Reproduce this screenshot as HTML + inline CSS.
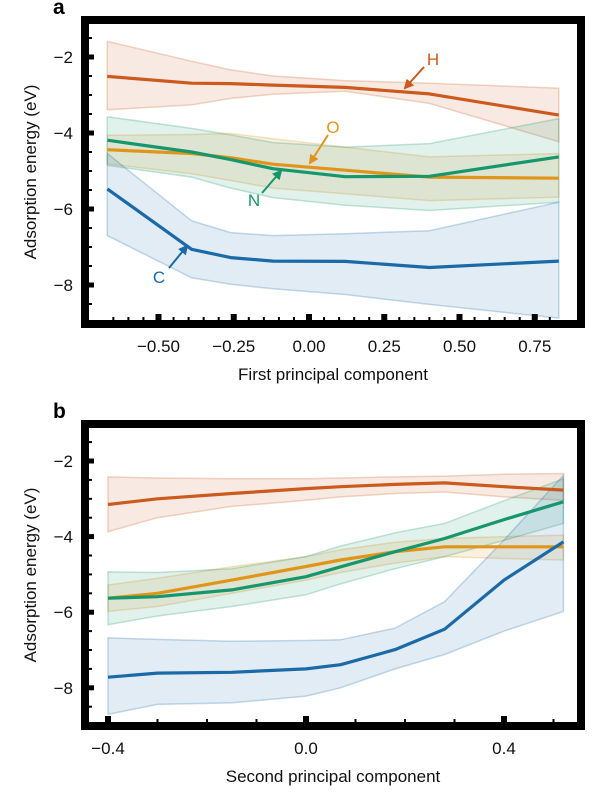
<!DOCTYPE html>
<html><head><meta charset="utf-8">
<style>
html,body{margin:0;padding:0;background:#fff;}
svg{display:block;font-family:"Liberation Sans",Arial,sans-serif;}
</style></head>
<body>
<svg id="chart" width="600" height="806" viewBox="0 0 600 806" xmlns="http://www.w3.org/2000/svg"></svg>
<script>
// Panel a data
const aX = [-0.67,-0.39,-0.26,-0.12,0.12,0.4,0.83];
const aHMean = [-2.51,-2.69,-2.7,-2.74,-2.8,-2.97,-3.53];
const aHHi = [-1.59,-2.11,-2.34,-2.5,-2.62,-2.69,-2.82];
const aHLo = [-3.39,-3.26,-3.09,-2.98,-2.9,-3.22,-4.23];
const aOMean = [-4.44,-4.54,-4.65,-4.82,-4.98,-5.16,-5.19];
const aOHi = [-4.06,-4.04,-4.01,-4.15,-4.37,-4.63,-4.54];
const aOLo = [-4.81,-5.07,-5.25,-5.45,-5.6,-5.78,-5.69];
const aNMean = [-4.19,-4.5,-4.7,-4.94,-5.15,-5.14,-4.63];
const aNHi = [-3.57,-3.88,-4.05,-4.25,-4.37,-4.28,-3.62];
const aNLo = [-4.85,-5.16,-5.45,-5.7,-5.9,-6.04,-5.82];
const aCMean = [-5.47,-7.06,-7.28,-7.37,-7.38,-7.54,-7.37];
const aCHi = [-4.54,-6.31,-6.62,-6.7,-6.65,-6.57,-5.82];
const aCLo = [-6.7,-7.81,-7.98,-8.1,-8.25,-8.51,-8.87];
const aXTicks = [-0.5,-0.25,0,0.25,0.5,0.75];
const aXTickLabels = ["\u22120.50","\u22120.25","0.00","0.25","0.50","0.75"];
// Panel b data
const bX = [-0.4,-0.3,-0.15,0.0,0.07,0.18,0.28,0.4,0.52];
const bHMean = [-3.15,-3.0,-2.86,-2.73,-2.68,-2.62,-2.58,-2.68,-2.77];
const bHHi = [-2.42,-2.45,-2.47,-2.47,-2.45,-2.42,-2.4,-2.35,-2.33];
const bHLo = [-3.87,-3.5,-3.2,-3.04,-2.95,-2.86,-2.82,-2.95,-3.04];
const bOMean = [-5.63,-5.5,-5.15,-4.79,-4.62,-4.4,-4.27,-4.27,-4.27];
const bOHi = [-5.28,-5.1,-4.8,-4.53,-4.35,-4.15,-4.05,-4.0,-3.96];
const bOLo = [-5.98,-5.85,-5.5,-5.15,-4.95,-4.7,-4.53,-4.58,-4.62];
const bNMean = [-5.63,-5.59,-5.41,-5.06,-4.8,-4.4,-4.05,-3.55,-3.08];
const bNHi = [-4.93,-4.95,-4.85,-4.53,-4.25,-3.9,-3.65,-3.05,-2.47];
const bNLo = [-6.33,-6.1,-5.85,-5.54,-5.25,-4.85,-4.53,-4.1,-3.65];
const bCMean = [-7.72,-7.61,-7.59,-7.5,-7.39,-6.99,-6.45,-5.15,-4.14];
const bCHi = [-6.68,-6.72,-6.77,-6.75,-6.73,-6.42,-5.72,-4.09,-2.38];
const bCLo = [-8.7,-8.44,-8.4,-8.22,-8.0,-7.5,-7.12,-6.5,-5.98];
const bXTicks = [-0.4,0,0.4];
const bXTickLabels = ["\u22120.4","0.0","0.4"];
const yTicks = [-2,-4,-6,-8];
const yTickLabels = ["\u22122","\u22124","\u22126","\u22128"];

const COL = {H:"#cc5a1c",O:"#e0951a",N:"#16966c",C:"#1a6aa8"};
const NS = "http://www.w3.org/2000/svg";
const svg = document.getElementById('chart');
function mk(tag, attrs, parent){const e=document.createElementNS(NS,tag);for(const k in attrs)e.setAttribute(k,attrs[k]);(parent||svg).appendChild(e);return e;}

function panel(cfg){
  const g = mk('g',{});
  
  
  const sx = v => cfg.x0 + v*cfg.xs;
  const sy = v => cfg.y2 + (-2 - v)*cfg.ys;
  const fr = mk('rect',{x:cfg.L,y:cfg.T,width:cfg.R-cfg.L,height:cfg.B-cfg.T,fill:'#000'},g);
  
  
  mk('rect',{x:cfg.L+8,y:cfg.T+8,width:cfg.R-cfg.L-16,height:cfg.B-cfg.T-16,fill:'#fff'},g);
  const clip = mk('clipPath',{id:cfg.name+'-clip'},g);
  mk('rect',{x:cfg.L+8,y:cfg.T+8,width:cfg.R-cfg.L-16,height:cfg.B-cfg.T-16},clip);
  const pg = mk('g',{'clip-path':'url(#'+cfg.name+'-clip)'},g);
  cfg.series.forEach(s=>{
    let d='';
    cfg.xv.forEach((x,i)=>{d+=(i?'L':'M')+sx(x).toFixed(1)+','+sy(s.hi[i]).toFixed(1);});
    for(let i=cfg.xv.length-1;i>=0;i--) d+='L'+sx(cfg.xv[i]).toFixed(1)+','+sy(s.lo[i]).toFixed(1);
    d+='Z';
    const band = mk('path',{d:d,fill:s.c,'fill-opacity':0.13,stroke:s.c,'stroke-opacity':0.25,'stroke-width':1.5},pg);
    
    
  });
  cfg.series.forEach(s=>{
    const pts = cfg.xv.map((x,i)=>sx(x).toFixed(1)+','+sy(s.m[i]).toFixed(1)).join(' ');
    const ln = mk('polyline',{points:pts,fill:'none',stroke:s.c,'stroke-width':3.2,'stroke-linejoin':'round'},pg);
    
    
  });
  for(let v=-1.5; v>=-8.5; v-=0.5){
    const y=sy(v); if(y<cfg.T+8||y>cfg.B-8) continue;
    const major = Number.isInteger(v) && v%2===0;
    mk('rect',{x:cfg.L+8,y:y-(major?2.5:1),width:major?5:3,height:major?5:2,fill:'#000'},g);
  }
  yTicks.forEach((v,i)=>{
    const t = mk('text',{x:cfg.L-8,y:sy(v)+6,'text-anchor':'end','font-size':17,fill:'#111'},g);
    t.textContent = yTickLabels[i];
    
    
  });
  for(let v=cfg.minStart; v<=cfg.minEnd+1e-9; v+=cfg.minStep){
    const x=sx(v);
    const major = cfg.xt.some(t=>Math.abs(t-v)<1e-6);
    mk('rect',{x:x-(major?3:1),y:cfg.B-8-(major?6:3),width:major?6:2,height:major?6:3,fill:'#000'},g);
  }
  cfg.xt.forEach((v,i)=>{
    const t = mk('text',{x:sx(v),y:cfg.B+24,'text-anchor':'middle','font-size':17,fill:'#111'},g);
    t.textContent = cfg.xl[i];
    
    
  });
  const xt = mk('text',{x:(cfg.L+cfg.R)/2,y:cfg.B+52,'text-anchor':'middle','font-size':17,fill:'#111'},g);
  xt.textContent = cfg.xtitle;
  
  
  const yc=(cfg.T+cfg.B)/2;
  const yt = mk('text',{x:36,y:yc,'text-anchor':'middle','font-size':17,fill:'#111',transform:'rotate(-90 36 '+yc+')'},g);
  yt.textContent = 'Adsorption energy (eV)';
  
  
  const pl = mk('text',{x:cfg.L-28,y:cfg.T-2,'font-size':21,'font-weight':'bold',fill:'#000'},g);
  pl.textContent = cfg.label;
  
  
  return {sx,sy,g};
}

panel({name:'panel-a',label:'a',L:81,T:16,R:585,B:328,x0:309,xs:301,y2:57,ys:38,
  xv:aX,xt:aXTicks,xl:aXTickLabels,minStart:-0.65,minEnd:0.80,minStep:0.05,xtitle:'First principal component',
  series:[{k:'H',c:COL.H,m:aHMean,hi:aHHi,lo:aHLo},{k:'O',c:COL.O,m:aOMean,hi:aOHi,lo:aOLo},
          {k:'N',c:COL.N,m:aNMean,hi:aNHi,lo:aNLo},{k:'C',c:COL.C,m:aCMean,hi:aCHi,lo:aCLo}]});
panel({name:'panel-b',label:'b',L:81,T:420,R:585,B:730,x0:306,xs:495,y2:461,ys:37.8,
  xv:bX,xt:bXTicks,xl:bXTickLabels,minStart:-0.4,minEnd:0.5,minStep:0.1,xtitle:'Second principal component',
  series:[{k:'H',c:COL.H,m:bHMean,hi:bHHi,lo:bHLo},{k:'O',c:COL.O,m:bOMean,hi:bOHi,lo:bOLo},
          {k:'N',c:COL.N,m:bNMean,hi:bNHi,lo:bNLo},{k:'C',c:COL.C,m:bCMean,hi:bCHi,lo:bCLo}]});

const defs = mk('defs',{});
['H','O','N','C'].forEach(k=>{
  const m = mk('marker',{id:'ar'+k,viewBox:'0 0 10 10',refX:8,refY:5,markerWidth:5,markerHeight:5,orient:'auto'},defs);
  mk('path',{d:'M0,0 L10,5 L0,10 Z',fill:COL[k]},m);
});
const ann = [
  {k:'H',tx:433,ty:65,x1:424,y1:67,x2:405,y2:88},
  {k:'O',tx:333,ty:133,x1:328,y1:135,x2:310,y2:163},
  {k:'N',tx:254,ty:206,x1:262,y1:193,x2:281,y2:171},
  {k:'C',tx:159,ty:283,x1:169,y1:268,x2:187,y2:246}
];
ann.forEach(a=>{
  const l = mk('line',{x1:a.x1,y1:a.y1,x2:a.x2,y2:a.y2,stroke:COL[a.k],'stroke-width':2,'marker-end':'url(#ar'+a.k+')'});
  
  
  const t = mk('text',{x:a.tx,y:a.ty,'text-anchor':'middle','font-size':17,fill:COL[a.k]});
  t.textContent = a.k;
  
  
});
</script>
</body></html>
